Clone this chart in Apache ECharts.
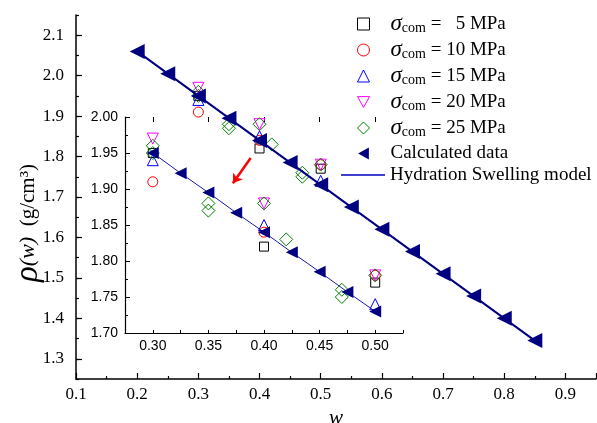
<!DOCTYPE html>
<html>
<head>
<meta charset="utf-8">
<script src="https://cdn.jsdelivr.net/npm/echarts@6/dist/echarts.min.js"></script>
<style>
  html, body { margin: 0; padding: 0; background: #fff; }
  #chart { width: 597px; height: 423px; }
</style>
</head>
<body>
<div id="chart"></div>
<script>
// calculated data (main plot)
var calcW = [0.20, 0.25, 0.30, 0.35, 0.40, 0.45, 0.50, 0.55, 0.60, 0.65, 0.70, 0.75, 0.80, 0.85];
var calcRho = [2.060, 2.005, 1.950, 1.895, 1.840, 1.785, 1.730, 1.675, 1.620, 1.565, 1.510, 1.455, 1.400, 1.345];

// calculated data (inset)
var insetW = [0.300, 0.325, 0.350, 0.375, 0.400, 0.425, 0.450, 0.475, 0.500];
var insetRho = [1.950, 1.922, 1.895, 1.867, 1.840, 1.812, 1.785, 1.757, 1.730];

// experiments
var w5 = [0.30, 0.40, 0.50];
var rho5 = [1.95, 1.82, 1.77];
var w10 = [0.30, 0.40, 0.50];
var rho10 = [1.91, 1.84, 1.78];
var w15 = [0.30, 0.40, 0.50];
var rho15 = [1.94, 1.85, 1.74];
var w20 = [0.30, 0.40, 0.50];
var rho20 = [1.97, 1.88, 1.78];
var w25 = [0.30, 0.30, 0.35, 0.35, 0.40, 0.42, 0.47, 0.47, 0.50];
var rho25 = [1.96, 1.95, 1.88, 1.87, 1.88, 1.83, 1.76, 1.75, 1.78];

// ticks
var mainYTicks = [1.3, 1.4, 1.5, 1.6, 1.7, 1.8, 1.9, 2.0, 2.1];
var insetXTicks = [0.30, 0.35, 0.40, 0.45, 0.50];

// red arrow in the inset (inset coords)
var arrowFrom = [0.388, 1.943];
var arrowTo = [0.372, 1.908];

function zip(a, b) {
	var out = [];
	for (var i = 0; i < a.length; i++) out.push([a[i], b[i]]);
	return out;
}

var serif = '"Liberation Serif", "Times New Roman", serif';
var sans = '"Liberation Sans", Arial, sans-serif';

var downTri = 'path://M0,0L10,0L5,9Z';
var leftTri = 'path://M9,0L9,10L0,5Z';

var expSeries = [
	{name: 'σcom =   5 MPa', w: w5, rho: rho5, symbol: 'rect', size: 9, rot: 0, color: '#000000'},
	{name: 'σcom = 10 MPa', w: w10, rho: rho10, symbol: 'circle', size: 10, rot: 0, color: '#ff0000'},
	{name: 'σcom = 15 MPa', w: w15, rho: rho15, symbol: 'triangle', size: 11, rot: 0, color: '#0000ff'},
	{name: 'σcom = 20 MPa', w: w20, rho: rho20, symbol: 'triangle', size: 11, rot: 180, color: '#ff00ff', icon: downTri},
	{name: 'σcom = 25 MPa', w: w25, rho: rho25, symbol: 'diamond', size: 13, rot: 0, color: '#008000'}
];

var series = [];
[0, 2].forEach(function (axisIdx) {
	expSeries.forEach(function (s) {
		series.push({
			name: s.name,
			type: 'scatter',
			xAxisIndex: axisIdx,
			yAxisIndex: axisIdx,
			symbol: s.symbol,
			symbolSize: s.size,
			symbolRotate: s.rot,
			itemStyle: {color: 'rgba(255,255,255,0)', borderColor: s.color, borderWidth: 1, opacity: 1},
			data: zip(s.w, s.rho),
			z: 2
		});
	});
});

series.push({
	name: 'Hydration Swelling model',
	type: 'line',
	xAxisIndex: 0,
	yAxisIndex: 0,
	symbol: 'none',
	lineStyle: {color: '#000080', width: 2},
	data: zip(calcW, calcRho),
	z: 3
});
series.push({
	name: 'Calculated data',
	type: 'scatter',
	xAxisIndex: 0,
	yAxisIndex: 0,
	symbol: 'triangle',
	symbolRotate: 90,
	symbolSize: 15,
	itemStyle: {color: '#000080', opacity: 1},
	data: zip(calcW, calcRho),
	z: 4
});
series.push({
	name: 'Hydration Swelling model',
	type: 'line',
	xAxisIndex: 2,
	yAxisIndex: 2,
	symbol: 'none',
	lineStyle: {color: '#1a1aa8', width: 1},
	data: zip(insetW, insetRho),
	z: 3,
	markLine: {
		silent: true,
		symbol: ['none', 'arrow'],
		symbolSize: 9,
		label: {show: false},
		lineStyle: {color: '#ff0000', width: 2.5, type: 'solid'},
		data: [[{coord: arrowFrom}, {coord: arrowTo}]]
	}
});
series.push({
	name: 'Calculated data',
	type: 'scatter',
	xAxisIndex: 2,
	yAxisIndex: 2,
	symbol: 'triangle',
	symbolRotate: 90,
	symbolSize: 12,
	itemStyle: {color: '#000080', opacity: 1},
	data: zip(insetW, insetRho),
	z: 4
});

var axisLineMain = {show: true, lineStyle: {color: '#000', width: 1.5}};
var axisLineInset = {show: true, lineStyle: {color: '#000', width: 1.2}};

var legendRich = {
	s: {fontFamily: serif, fontStyle: 'italic', fontSize: 23, lineHeight: 22, color: '#000'},
	c: {fontFamily: serif, fontSize: 14, lineHeight: 22, color: '#000', verticalAlign: 'bottom'},
	n: {fontFamily: serif, fontSize: 19, lineHeight: 22, color: '#000'}
};

var legendItems = expSeries.map(function (s) {
	var item = {name: s.name,
		itemStyle: {color: 'rgba(255,255,255,0)', borderColor: s.color, borderWidth: 1, opacity: 1}};
	if (s.icon) item.icon = s.icon;
	return item;
});
legendItems.push({name: 'Calculated data', icon: leftTri, itemStyle: {color: '#000080', opacity: 1}});

var chart = echarts.init(document.getElementById('chart'));
var option = {
	animation: false,
	backgroundColor: '#fff',
	grid: [
		{left: 76, right: 1, top: 15, bottom: 44, outerBoundsMode: 'none'},
		{left: 125, right: 194, top: 117, bottom: 90, outerBoundsMode: 'none'}
	],
	xAxis: [
		{
			gridIndex: 0, type: 'value', min: 0.1, max: 0.95, interval: 0.1,
			axisLine: axisLineMain,
			axisTick: {inside: true, length: 6, lineStyle: {color: '#000', width: 1.2}},
			minorTick: {show: true, splitNumber: 2, length: 3, lineStyle: {color: '#000', width: 1.2}},
			splitLine: {show: false},
			axisLabel: {showMaxLabel: false, color: '#000', fontFamily: serif, fontSize: 17, margin: 7,
				formatter: function (v) { return v.toFixed(1); }},
			name: 'w', nameLocation: 'middle', nameGap: 24,
			nameTextStyle: {fontFamily: serif, fontStyle: 'italic', fontSize: 21, color: '#000'}
		},
		{
			gridIndex: 0, type: 'value', min: 0.1, max: 0.95, show: false
		},
		{
			gridIndex: 1, type: 'value', min: 0.275, max: 0.525, interval: 0.025,
			axisLine: axisLineInset,
			axisTick: {inside: true, length: 3, lineStyle: {color: '#000', width: 1}},
			splitLine: {show: false},
			axisLabel: {customValues: insetXTicks, color: '#000', fontFamily: sans, fontSize: 14, margin: 6,
				formatter: function (v) { return v.toFixed(2); }}
		},
		{
			gridIndex: 1, type: 'value', min: 0.275, max: 0.525,
			axisLine: {show: false},
			axisTick: {show: true, inside: true, length: 5, customValues: insetXTicks, lineStyle: {color: '#000', width: 1}},
			axisLabel: {show: false},
			splitLine: {show: false}
		}
	],
	yAxis: [
		{
			gridIndex: 0, type: 'value', min: 1.25, max: 2.15, interval: 0.05,
			axisLine: axisLineMain,
			axisTick: {inside: true, length: 3, lineStyle: {color: '#000', width: 1.2}},
			splitLine: {show: false},
			axisLabel: {customValues: mainYTicks, color: '#000', fontFamily: serif, fontSize: 17, margin: 12,
				formatter: function (v) { return v.toFixed(1); }}
		},
		{
			gridIndex: 0, type: 'value', min: 1.25, max: 2.15, position: 'left',
			axisLine: {show: false},
			axisTick: {show: true, inside: true, length: 6, customValues: mainYTicks, lineStyle: {color: '#000', width: 1.2}},
			axisLabel: {show: false},
			splitLine: {show: false}
		},
		{
			gridIndex: 1, type: 'value', min: 1.70, max: 2.00, interval: 0.05,
			axisLine: axisLineInset,
			axisTick: {inside: true, length: 5, lineStyle: {color: '#000', width: 1}},
			minorTick: {show: true, splitNumber: 2, length: 3, lineStyle: {color: '#000', width: 1}},
			splitLine: {show: false},
			axisLabel: {color: '#000', fontFamily: sans, fontSize: 14, margin: 7,
				formatter: function (v) { return v.toFixed(2); }}
		},
		{
			gridIndex: 1, type: 'value', min: 1.70, max: 2.00, show: false
		}
	],
	legend: [
		{
			orient: 'vertical',
			left: 357,
			top: 12.5,
			padding: 0,
			itemWidth: 12,
			itemHeight: 12,
			itemGap: 3,
			selectedMode: false,
			data: legendItems,
			formatter: function (name) {
				if (name.indexOf('σcom') === 0) {
					return '{s|σ}{c|com}{n|' + name.slice(4) + '}';
				}
				return '{n|' + name + '}';
			},
			textStyle: {color: '#000', fontFamily: serif, fontSize: 19, lineHeight: 22,
				padding: [0, 0, 0, 16], rich: legendRich}
		},
		{
			orient: 'vertical',
			left: 341,
			top: 164,
			padding: 0,
			itemWidth: 44,
			itemHeight: 1.5,
			selectedMode: false,
			data: [{name: 'Hydration Swelling model', icon: 'rect', itemStyle: {color: '#0000c0'}}],
			formatter: function (name) { return '{n|' + name + '}'; },
			textStyle: {color: '#000', fontFamily: serif, fontSize: 19, lineHeight: 22, rich: legendRich}
		}
	],
	graphic: [{
		type: 'text',
		x: 28,
		y: 223,
		rotation: Math.PI / 2,
		style: {
			text: '{r|ρ}{i|(w)}{n|  (g/cm³)}',
			align: 'center',
			verticalAlign: 'middle',
			rich: {
				r: {fontFamily: serif, fontStyle: 'italic', fontSize: 33, fill: '#000'},
				i: {fontFamily: serif, fontStyle: 'italic', fontSize: 22, fill: '#000'},
				n: {fontFamily: serif, fontSize: 21, fill: '#000'}
			}
		}
	}],
	series: series
};
chart.setOption(option);
</script>
</body>
</html>
